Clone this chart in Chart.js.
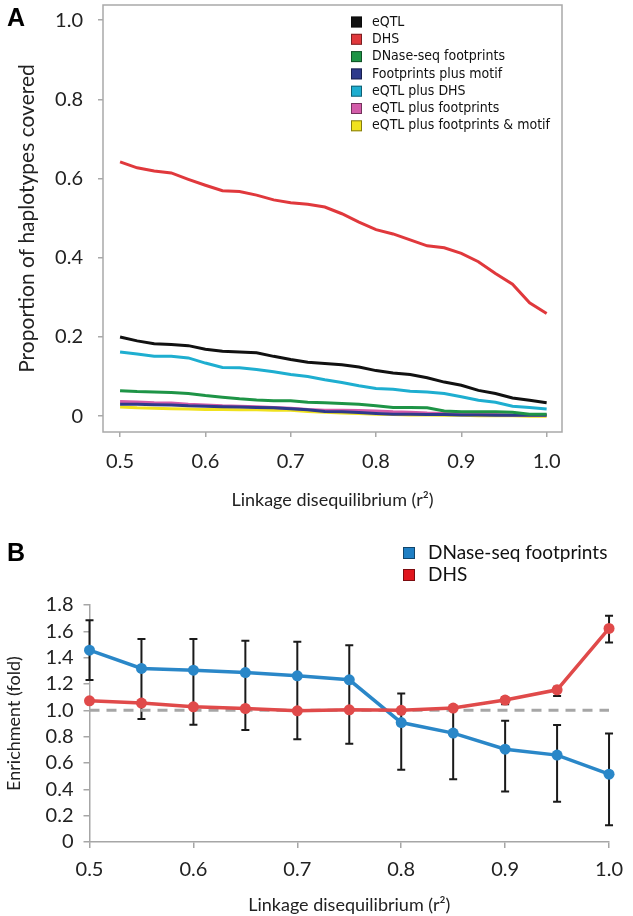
<!DOCTYPE html>
<html>
<head>
<meta charset="utf-8">
<script src="https://cdn.jsdelivr.net/npm/chart.js@4.4.1/dist/chart.umd.min.js"></script>
<style>
  body { margin: 0; background: #fff; }
  #wrap { position: relative; width: 633px; height: 916px; }
  canvas { position: absolute; left: 0; }
  #chartA { top: 0; }
  #chartB { top: 515px; }
  .panel { position: absolute; left: 7px; font: bold 25px "Liberation Sans", Arial, sans-serif; color: #000; }
</style>
</head>
<body>
<div id="wrap">
  <canvas id="chartA" width="633" height="515"></canvas>
  <canvas id="chartB" width="633" height="401"></canvas>
  <div class="panel" style="top:3px">A</div>
  <div class="panel" style="top:538px">B</div>
</div>
<script>
// panel A: proportion of haplotypes covered vs LD threshold
const ldA = [0.50, 0.52, 0.54, 0.56, 0.58, 0.60, 0.62, 0.64, 0.66, 0.68, 0.70, 0.72, 0.74,
             0.76, 0.78, 0.80, 0.82, 0.84, 0.86, 0.88, 0.90, 0.92, 0.94, 0.96, 0.98, 1.00];
const eqtl = [0.200, 0.190, 0.183, 0.181, 0.178, 0.169, 0.164, 0.162, 0.160, 0.151, 0.143, 0.136, 0.133,
              0.130, 0.124, 0.115, 0.109, 0.105, 0.097, 0.086, 0.078, 0.065, 0.057, 0.046, 0.040, 0.034];
const dhs = [0.642, 0.627, 0.619, 0.614, 0.598, 0.583, 0.569, 0.567, 0.558, 0.546, 0.539, 0.535, 0.528,
             0.511, 0.490, 0.471, 0.460, 0.445, 0.430, 0.425, 0.411, 0.390, 0.360, 0.333, 0.286, 0.259];
const footprints = [0.064, 0.062, 0.061, 0.060, 0.057, 0.052, 0.048, 0.044, 0.041, 0.039, 0.039, 0.035, 0.034,
                    0.032, 0.030, 0.026, 0.022, 0.022, 0.021, 0.013, 0.011, 0.011, 0.011, 0.010, 0.005, 0.005];
const fpMotif = [0.030, 0.030, 0.029, 0.028, 0.026, 0.025, 0.024, 0.023, 0.022, 0.021, 0.019, 0.016, 0.012,
                 0.011, 0.009, 0.007, 0.005, 0.005, 0.004, 0.004, 0.003, 0.003, 0.002, 0.002, 0.002, 0.002];
const eqtlDhs = [0.162, 0.157, 0.151, 0.151, 0.147, 0.134, 0.123, 0.122, 0.118, 0.112, 0.105, 0.100, 0.092,
                 0.085, 0.077, 0.070, 0.068, 0.063, 0.061, 0.057, 0.049, 0.040, 0.035, 0.025, 0.022, 0.018];
const eqtlFp = [0.037, 0.036, 0.034, 0.033, 0.030, 0.028, 0.026, 0.025, 0.024, 0.022, 0.020, 0.017, 0.015,
                0.015, 0.014, 0.013, 0.011, 0.010, 0.008, 0.007, 0.006, 0.005, 0.004, 0.003, 0.003, 0.003];
const eqtlFpMotif = [0.023, 0.021, 0.020, 0.019, 0.018, 0.017, 0.017, 0.016, 0.016, 0.015, 0.015, 0.012, 0.010,
                     0.008, 0.007, 0.005, 0.004, 0.003, 0.003, 0.002, 0.002, 0.001, 0.001, 0.001, 0.000, 0.000];
const namesA = ["eQTL", "DHS", "DNase-seq footprints", "Footprints plus motif",
                "eQTL plus DHS", "eQTL plus footprints", "eQTL plus footprints & motif"];
const colorsA = ["#111111", "#e0383c", "#1e9446", "#2e3a8c", "#1eaed0", "#d35ca9", "#f0e21e"];
const yTicksA = [0, 0.2, 0.4, 0.6, 0.8, 1.0];
const xTicks = [0.5, 0.6, 0.7, 0.8, 0.9, 1.0];

// panel B: enrichment (fold) with error bars
const ldB = [0.50, 0.55, 0.60, 0.65, 0.70, 0.75, 0.80, 0.85, 0.90, 0.95, 1.00];
const fpFold = [1.457, 1.318, 1.305, 1.287, 1.262, 1.232, 0.907, 0.827, 0.705, 0.660, 0.515];
const fpLow = [1.230, 0.935, 0.890, 0.850, 0.780, 0.746, 0.548, 0.477, 0.383, 0.305, 0.128];
const fpHigh = [1.685, 1.541, 1.541, 1.528, 1.520, 1.495, 1.128, 1.030, 0.920, 0.888, 0.824];
const dhsFold = [1.072, 1.055, 1.027, 1.014, 0.996, 1.004, 1.000, 1.017, 1.078, 1.156, 1.622];
const dhsLow = [1.062, 1.046, 1.019, 1.006, 0.988, 0.996, 0.992, 1.008, 1.047, 1.108, 1.515];
const dhsHigh = [1.082, 1.064, 1.035, 1.022, 1.004, 1.012, 1.008, 1.026, 1.100, 1.180, 1.718];
const baseX = [0.5, 1.0];
const baseY = [1, 1];
const yTicksB = [0, 0.2, 0.4, 0.6, 0.8, 1.0, 1.2, 1.4, 1.6, 1.8];

Chart.defaults.font.family = "Lato";
Chart.defaults.color = "#222";

const toPoints = (xs, ys) => xs.map((x, i) => ({ x: x, y: ys[i] }));
const fmt = (v) => (v === 0 ? "0" : v.toFixed(1));

const boxLegend = {
  id: "boxLegend",
  afterDraw(chart, args, o) {
    const ctx = chart.ctx;
    ctx.save();
    ctx.font = o.font;
    ctx.textBaseline = "middle";
    let row = 0;
    chart.data.datasets.forEach((ds) => {
      if (!ds.label) return;
      const y = o.top + row * o.gap;
      ctx.fillStyle = ds.legendColor || ds.borderColor;
      ctx.fillRect(o.left, y - o.box / 2, o.box, o.box);
      ctx.strokeStyle = "rgba(0,0,0,0.45)";
      ctx.lineWidth = 1;
      ctx.strokeRect(o.left + 0.5, y - o.box / 2 + 0.5, o.box - 1, o.box - 1);
      ctx.fillStyle = "#111";
      ctx.fillText(ds.label, o.left + o.box + o.space, y);
      row++;
    });
    ctx.restore();
  }
};

const frame = {
  id: "frame",
  beforeDatasetsDraw(chart) {
    const { ctx, chartArea: a } = chart;
    ctx.save();
    ctx.strokeStyle = "#a9a9a9";
    ctx.lineWidth = 1.5;
    ctx.strokeRect(a.left, a.top, a.right - a.left, a.bottom - a.top);
    ctx.restore();
  }
};

const errorBars = {
  id: "errorBars",
  beforeDatasetsDraw(chart) {
    const { ctx, scales: { x, y } } = chart;
    ctx.save();
    ctx.strokeStyle = "#1a1a1a";
    ctx.lineWidth = 2;
    chart.data.datasets.forEach((ds) => {
      if (!ds.errLow) return;
      ds.data.forEach((p, i) => {
        const px = x.getPixelForValue(p.x);
        const lo = y.getPixelForValue(ds.errLow[i]);
        const hi = y.getPixelForValue(ds.errHigh[i]);
        ctx.beginPath();
        ctx.moveTo(px, lo); ctx.lineTo(px, hi);
        ctx.moveTo(px - 4, lo); ctx.lineTo(px + 4, lo);
        ctx.moveTo(px - 4, hi); ctx.lineTo(px + 4, hi);
        ctx.stroke();
      });
    });
    ctx.restore();
  }
};

const seriesA = [eqtl, dhs, footprints, fpMotif, eqtlDhs, eqtlFp, eqtlFpMotif];

new Chart(document.getElementById("chartA"), {
  type: "line",
  data: {
    datasets: seriesA.map((s, i) => ({
      label: namesA[i],
      data: toPoints(ldA, s),
      borderColor: colorsA[i],
      backgroundColor: colorsA[i],
      borderWidth: 3,
      pointRadius: 0,
      tension: 0,
      clip: false
    }))
  },
  options: {
    responsive: false,
    animation: false,
    layout: { padding: { top: 5, right: 71, left: 0, bottom: 0 } },
    plugins: {
      legend: { display: false },
      tooltip: { enabled: false },
      boxLegend: { left: 351, top: 22, gap: 17.3, box: 11, space: 10,
                   font: "14px 'Liberation Sans Narrow', 'DejaVu Sans Condensed', sans-serif" }
    },
    scales: {
      x: {
        type: "linear", min: 0.48, max: 1.018,
        afterBuildTicks: (s) => { s.ticks = xTicks.map((v) => ({ value: v })); },
        afterFit: (s) => { s.height = 83; },
        grid: { drawOnChartArea: false, tickLength: 5, color: "#a9a9a9", lineWidth: 1.5 },
        border: { display: false },
        ticks: { font: { size: 20 }, padding: 13, maxRotation: 0, autoSkip: false, callback: (v) => v.toFixed(1) },
        title: { display: true, text: "Linkage disequilibrium (r²)", font: { size: 18 }, padding: { top: 0, bottom: 4 } }
      },
      y: {
        min: -0.04, max: 1.038,
        afterBuildTicks: (s) => { s.ticks = yTicksA.map((v) => ({ value: v })); },
        afterFit: (s) => { s.width = 103; s.paddingTop = 0; s.paddingBottom = 0; },
        grid: { drawOnChartArea: false, tickLength: 5, color: "#a9a9a9", lineWidth: 1.5 },
        border: { display: false },
        ticks: { font: { size: 20 }, padding: 15, autoSkip: false, callback: fmt },
        title: { display: true, text: "Proportion of haplotypes covered", font: { size: 21 }, padding: { top: 15, bottom: 0 } }
      }
    }
  },
  plugins: [frame, boxLegend]
});

new Chart(document.getElementById("chartB"), {
  type: "line",
  data: {
    datasets: [
      {
        label: "DNase-seq footprints",
        data: toPoints(ldB, fpFold),
        errLow: fpLow, errHigh: fpHigh,
        borderColor: "#2a87c8", backgroundColor: "#2a87c8", legendColor: "#1f7fc4",
        borderWidth: 3.5, pointRadius: 5.5, pointBorderWidth: 0,
        tension: 0, clip: false, order: 1
      },
      {
        label: "DHS",
        data: toPoints(ldB, dhsFold),
        errLow: dhsLow, errHigh: dhsHigh,
        borderColor: "#e04a4a", backgroundColor: "#e04a4a", legendColor: "#e0161e",
        borderWidth: 3.5, pointRadius: 5.5, pointBorderWidth: 0,
        tension: 0, clip: false, order: 0
      },
      {
        data: toPoints(baseX, baseY),
        borderColor: "#a6a6a6", borderWidth: 3, borderDash: [10, 7],
        pointRadius: 0, tension: 0, order: 2
      }
    ]
  },
  options: {
    responsive: false,
    animation: false,
    layout: { padding: { top: 90, right: 17, left: 0, bottom: 0 } },
    plugins: {
      legend: { display: false },
      tooltip: { enabled: false },
      boxLegend: { left: 403, top: 38, gap: 22, box: 12, space: 13, font: "19px Lato" }
    },
    scales: {
      x: {
        type: "linear", min: 0.5, max: 1.0,
        afterBuildTicks: (s) => { s.ticks = xTicks.map((v) => ({ value: v })); },
        afterFit: (s) => { s.height = 74; },
        grid: { drawOnChartArea: false, tickLength: 6, color: "#a6a6a6", lineWidth: 1.5 },
        border: { display: true, color: "#a6a6a6", width: 1.5 },
        ticks: { font: { size: 20 }, padding: 10, maxRotation: 0, autoSkip: false, callback: (v) => v.toFixed(1) },
        title: { display: true, text: "Linkage disequilibrium (r²)", font: { size: 18 }, padding: { top: 0, bottom: 0 } }
      },
      y: {
        min: 0, max: 1.8,
        afterBuildTicks: (s) => { s.ticks = yTicksB.map((v) => ({ value: v })); },
        afterFit: (s) => { s.width = 89.5; s.paddingTop = 0; s.paddingBottom = 0; },
        grid: { drawOnChartArea: false, tickLength: 6, color: "#a6a6a6", lineWidth: 1.5 },
        border: { display: true, color: "#a6a6a6", width: 1.5 },
        ticks: { font: { size: 20 }, padding: 10, autoSkip: false, callback: fmt },
        title: { display: true, text: "Enrichment (fold)", font: { size: 18 }, padding: { top: 3, bottom: 0 } }
      }
    }
  },
  plugins: [errorBars, boxLegend]
});
</script>
</body>
</html>
